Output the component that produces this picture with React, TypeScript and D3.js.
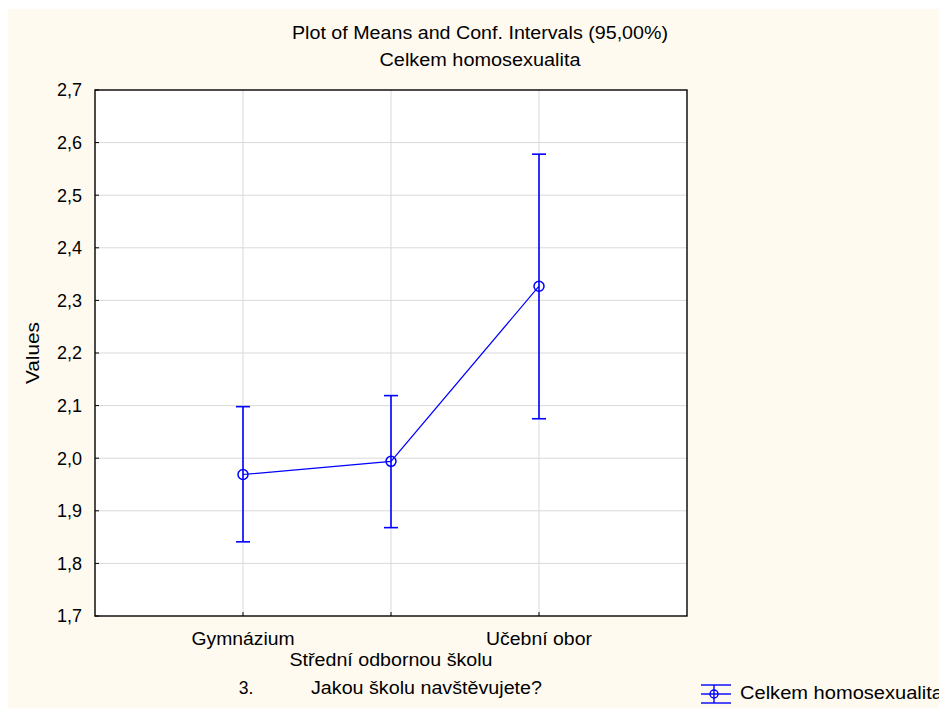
import React from "react";
import * as d3 from "d3";

const categories = ["Gymnázium", "Střední odbornou školu", "Učební obor"];
const means = [1.969, 1.994, 2.327];
const lowerCI = [1.841, 1.868, 2.075];
const upperCI = [2.098, 2.119, 2.578];
const yTicks = [1.7, 1.8, 1.9, 2.0, 2.1, 2.2, 2.3, 2.4, 2.5, 2.6, 2.7];
const titleLines = ["Plot of Means and Conf. Intervals (95,00%)", "Celkem homosexualita"];
const xTitle = "Jakou školu navštěvujete?";
const xTitlePrefix = "3.";
const yTitle = "Values";
const seriesName = "Celkem homosexualita";

const W = 939;
const H = 708;
const left = 95, right = 687, top = 90, bottom = 616;
const BLUE = "#0000ff";
const FONT = "'Liberation Sans', Arial, sans-serif";

export default function App() {
  const x = d3.scaleLinear().domain([0, categories.length + 1]).range([left, right]);
  const y = d3.scaleLinear().domain([1.7, 2.7]).range([bottom, top]);
  const fmt = (v: number) => d3.format(".1f")(v).replace(".", ",");
  const line = d3
    .line<number>()
    .x((_, i) => x(i + 1))
    .y((d) => y(d));
  const cap = 7;
  const labelY = [645, 666, 645];
  const labelW = [103, 203, 106];

  return (
    <div style={{ position: "absolute", left: 0, top: 0, width: W, height: H, overflow: "hidden" }}>
      <svg width={W} height={H} style={{ display: "block" }} fontFamily={FONT}>
        <rect x={0} y={0} width={W} height={H} fill="#ffffff" />
        <rect x={8} y={9} width={W - 8} height={H - 9} fill="#fffaf0" />
        <rect x={left} y={top} width={right - left} height={bottom - top} fill="#ffffff" />
        {/* gridlines */}
        {yTicks.slice(1, -1).map((t) => (
          <line key={"gy" + t} x1={left} x2={right} y1={y(t)} y2={y(t)} stroke="#d9d9d9" strokeWidth={1} />
        ))}
        {categories.map((c, i) => (
          <line key={"gx" + c} x1={x(i + 1)} x2={x(i + 1)} y1={top} y2={bottom} stroke="#d9d9d9" strokeWidth={1} />
        ))}
        {/* ticks */}
        {yTicks.map((t) => (
          <line key={"ty" + t} x1={left} x2={left + 4} y1={y(t)} y2={y(t)} stroke="#000" strokeWidth={1} />
        ))}
        {categories.map((c, i) => (
          <line key={"tx" + c} x1={x(i + 1)} x2={x(i + 1)} y1={bottom} y2={bottom - 4} stroke="#000" strokeWidth={1} />
        ))}
        <rect x={left} y={top} width={right - left} height={bottom - top} fill="none" stroke="#000" strokeWidth={1.4} />
        {/* y tick labels */}
        {yTicks.map((t) => (
          <text key={"ly" + t} x={82} y={y(t)} dy="0.36em" textAnchor="end" fontSize={18} fill="#000">
            {fmt(t)}
          </text>
        ))}
        {/* x labels */}
        {categories.map((c, i) => (
          <text
            key={"lx" + c}
            x={x(i + 1)}
            y={labelY[i]}
            textAnchor="middle"
            fontSize={17.5}
            textLength={labelW[i]}
            lengthAdjust="spacingAndGlyphs"
            fill="#000"
          >
            {c}
          </text>
        ))}
        {/* series */}
        <path d={line(means) || ""} fill="none" stroke={BLUE} strokeWidth={1.2} />
        {means.map((m, i) => {
          const cx = x(i + 1);
          return (
            <g key={"s" + i} stroke={BLUE} fill="none">
              <line x1={cx} x2={cx} y1={y(upperCI[i])} y2={y(lowerCI[i])} strokeWidth={1.6} />
              <line x1={cx - cap} x2={cx + cap} y1={y(upperCI[i])} y2={y(upperCI[i])} strokeWidth={1.6} />
              <line x1={cx - cap} x2={cx + cap} y1={y(lowerCI[i])} y2={y(lowerCI[i])} strokeWidth={1.6} />
              <circle cx={cx} cy={y(m)} r={5} strokeWidth={1.5} />
            </g>
          );
        })}
        {/* titles */}
        <text x={480} y={39} textAnchor="middle" fontSize={17.5} textLength={376} lengthAdjust="spacingAndGlyphs">
          {titleLines[0]}
        </text>
        <text x={480} y={66} textAnchor="middle" fontSize={17.5} textLength={201} lengthAdjust="spacingAndGlyphs">
          {titleLines[1]}
        </text>
        <text
          transform={`translate(39, ${(top + bottom) / 2}) rotate(-90)`}
          textAnchor="middle"
          fontSize={17.5}
          textLength={62}
          lengthAdjust="spacingAndGlyphs"
        >
          {yTitle}
        </text>
        <text x={246} y={694} textAnchor="middle" fontSize={17.5}>
          {xTitlePrefix}
        </text>
        <text x={311} y={694} fontSize={17.5} textLength={231} lengthAdjust="spacingAndGlyphs">
          {xTitle}
        </text>
        {/* legend */}
        <g stroke={BLUE} fill="none" strokeWidth={1.4}>
          <line x1={701} x2={731} y1={685} y2={685} />
          <line x1={701} x2={731} y1={703} y2={703} />
          <line x1={701} x2={731} y1={694} y2={694} />
          <line x1={714} x2={714} y1={685} y2={703} />
          <circle cx={714} cy={694} r={4} />
        </g>
        <text x={740} y={699} fontSize={17.5} textLength={203} lengthAdjust="spacingAndGlyphs">
          {seriesName}
        </text>
      </svg>
    </div>
  );
}
